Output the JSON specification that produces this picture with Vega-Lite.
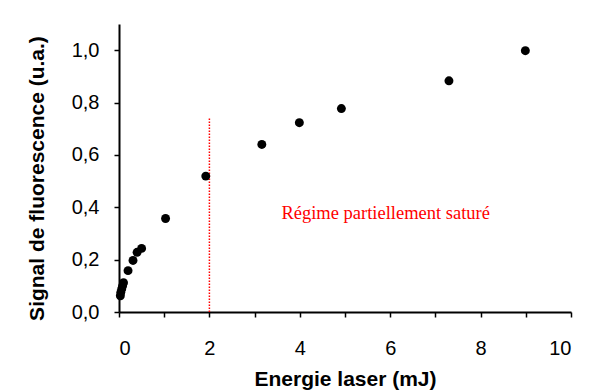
{
  "$schema": "https://vega.github.io/schema/vega-lite/v6.json",
  "autosize": {"type": "none"},
  "width": 452,
  "height": 288,
  "padding": {"left": 119, "top": 24, "right": 18, "bottom": 78},
  "background": "white",
  "config": {
    "view": {"stroke": null},
    "axis": {
      "grid": false,
      "domainColor": "black",
      "domainWidth": 2,
      "tickColor": "black",
      "tickWidth": 1.5,
      "tickSize": 5,
      "labelFont": "Liberation Sans",
      "labelFontSize": 20,
      "labelColor": "black",
      "titleFont": "Liberation Sans",
      "titleFontSize": 21,
      "titleFontWeight": "bold",
      "titleColor": "black"
    }
  },
  "datasets": {
    "points": [
      {"energie": 0.03, "signal": 0.062},
      {"energie": 0.04, "signal": 0.075},
      {"energie": 0.06, "signal": 0.088},
      {"energie": 0.08, "signal": 0.1},
      {"energie": 0.1, "signal": 0.112},
      {"energie": 0.2, "signal": 0.158},
      {"energie": 0.31, "signal": 0.197},
      {"energie": 0.4, "signal": 0.228},
      {"energie": 0.5, "signal": 0.243},
      {"energie": 1.03, "signal": 0.357},
      {"energie": 1.92, "signal": 0.519},
      {"energie": 3.16, "signal": 0.64},
      {"energie": 3.99, "signal": 0.723},
      {"energie": 4.92, "signal": 0.777},
      {"energie": 7.3, "signal": 0.883},
      {"energie": 8.99, "signal": 0.998}
    ],
    "seuil": [{"energie": 2, "haut": 0.74, "bas": 0}],
    "note": [{"energie": 5.9, "signal": 0.355, "texte": "Régime partiellement saturé"}]
  },
  "layer": [
    {
      "data": {"name": "seuil"},
      "mark": {"type": "rule", "color": "#FF0000", "strokeWidth": 1.5, "strokeDash": [1.5, 1.5]},
      "encoding": {
        "x": {"field": "energie", "type": "quantitative", "scale": {"domain": [0, 10], "nice": false}},
        "y": {"field": "bas", "type": "quantitative"},
        "y2": {"field": "haut"}
      }
    },
    {
      "data": {"name": "points"},
      "mark": {"type": "point", "filled": true, "color": "black", "opacity": 1, "size": 80},
      "encoding": {
        "x": {
          "field": "energie", "type": "quantitative",
          "scale": {"domain": [0, 10], "nice": false},
          "axis": {
            "title": "Energie laser (mJ)",
            "values": [0, 1, 2, 3, 4, 5, 6, 7, 8, 9, 10],
            "labelExpr": "datum.value % 2 == 0 ? datum.label : ''",
            "labelPadding": 21,
            "titleBaseline": "alphabetic",
            "titleY": 73,
            "titlePadding": 0
          }
        },
        "y": {
          "field": "signal", "type": "quantitative",
          "scale": {"domain": [0, 1.1], "nice": false},
          "axis": {
            "title": "Signal de fluorescence (u.a.)",
            "values": [0, 0.1, 0.2, 0.3, 0.4, 0.5, 0.6, 0.7, 0.8, 0.9, 1.0],
            "labelExpr": "round(datum.value * 10) % 2 == 0 ? replace(format(datum.value, '.1f'), '.', ',') : ''",
            "labelPadding": 15,
            "titleBaseline": "alphabetic",
            "titleAngle": -90,
            "titleX": -76,
            "titleY": 154
          }
        }
      }
    },
    {
      "data": {"name": "note"},
      "mark": {"type": "text", "color": "#FF0000", "font": "Liberation Serif", "fontSize": 18.5, "align": "center", "baseline": "alphabetic"},
      "encoding": {
        "x": {"field": "energie", "type": "quantitative"},
        "y": {"field": "signal", "type": "quantitative"},
        "text": {"field": "texte"}
      }
    }
  ]
}
